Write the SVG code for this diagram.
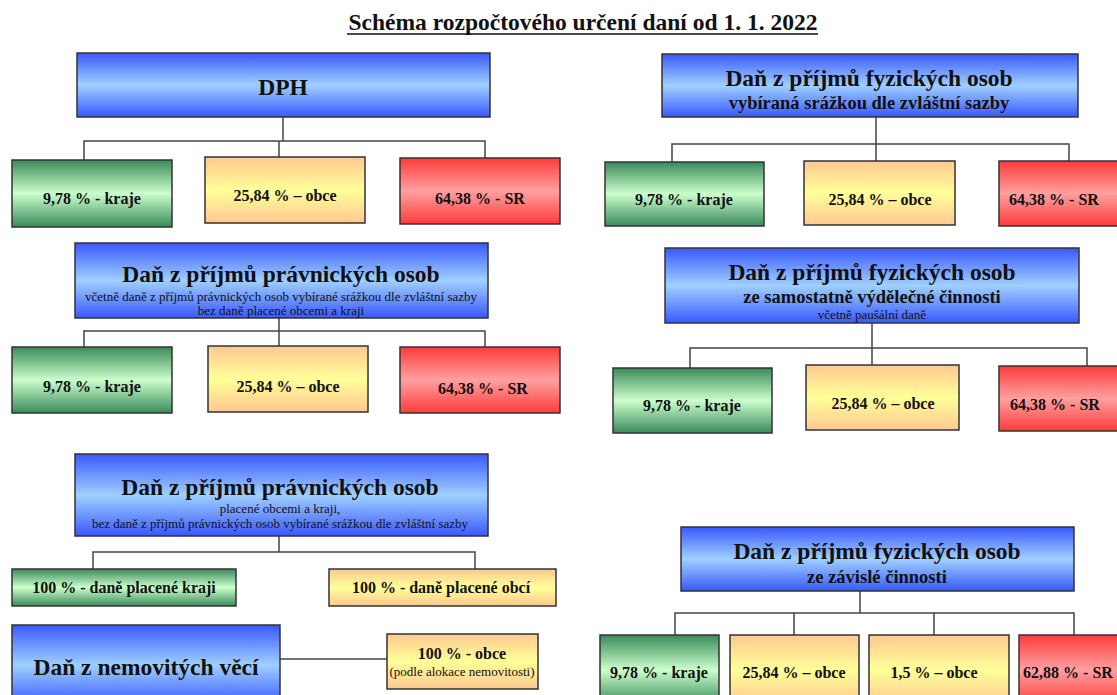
<svg xmlns="http://www.w3.org/2000/svg" width="1117" height="695" viewBox="0 0 1117 695">
<defs>
<linearGradient id="gBlue" x1="0" y1="0" x2="0" y2="1">
<stop offset="0" stop-color="#3a58ff"/><stop offset="0.5" stop-color="#9fd0ff"/><stop offset="1" stop-color="#3a58ff"/>
</linearGradient>
<linearGradient id="gGreen" x1="0" y1="0" x2="0" y2="1">
<stop offset="0" stop-color="#3a8a5a"/><stop offset="0.5" stop-color="#ccffcc"/><stop offset="1" stop-color="#3a8a5a"/>
</linearGradient>
<linearGradient id="gOrange" x1="0" y1="0" x2="0" y2="1">
<stop offset="0" stop-color="#ffc890"/><stop offset="0.5" stop-color="#ffff99"/><stop offset="1" stop-color="#ffc890"/>
</linearGradient>
<linearGradient id="gRed" x1="0" y1="0" x2="0" y2="1">
<stop offset="0" stop-color="#ff3b3b"/><stop offset="0.5" stop-color="#ffa0a0"/><stop offset="1" stop-color="#ff3b3b"/>
</linearGradient>
</defs>
<style>
text{font-family:"Liberation Serif","Times New Roman",serif;fill:#111;text-anchor:middle}
.b{font-weight:bold}
.box{stroke:#333;stroke-width:1.5}
.blue{fill:url(#gBlue)}
.green{fill:url(#gGreen)}
.orange{fill:url(#gOrange)}
.red{fill:url(#gRed)}
.main{font-size:23.5px;font-weight:bold}
.head{font-size:23.5px;font-weight:bold}
.sub{font-size:18.5px;font-weight:bold}
.note{font-size:13px}
.val{font-size:16px;font-weight:bold}
#connectors path{fill:none;stroke:#444;stroke-width:1.5}
</style>
<rect width="1117" height="695" fill="#fff"/>
<g id="title">
<text x="583" y="30" class="b" font-size="23.5">Schéma rozpočtového určení daní od 1. 1. 2022</text>
<line x1="347" y1="34" x2="818" y2="34" stroke="#111" stroke-width="1.3"/>
</g>
<g id="connectors">
<path d="M283 117V141M84 160V141H485V158M279 141V157"/>
<path d="M876 117V144M672 162V144H1069V161M876 144V161"/>
<path d="M279 318V331M84 347V331H485V347M279 331V346"/>
<path d="M872 323V348M690 368V348H1087V366M872 348V365"/>
<path d="M279 536V552M93 569V552H475V569"/>
<path d="M280 659H387"/>
<path d="M860 591V613M675 635V613H1074V635M794 613V635M934 613V635"/>
</g>
<g id="dph">
<rect class="box blue" x="77" y="53" width="413" height="64"/>
<text class="main" x="283" y="95">DPH</text>
</g>
<g id="dph-kraje"><rect class="box green" x="12" y="160" width="160" height="67"/><text class="val" x="92" y="204">9,78 % - kraje</text></g>
<g id="dph-obce"><rect class="box orange" x="205" y="157" width="160" height="66"/><text class="val" x="285" y="201">25,84 % – obce</text></g>
<g id="dph-sr"><rect class="box red" x="400" y="158" width="160" height="66"/><text class="val" x="480" y="204">64,38 % - SR</text></g>

<g id="dpfo-srazka">
<rect class="box blue" x="662" y="54" width="416" height="63"/>
<text class="head" x="869" y="86">Daň z příjmů fyzických osob</text>
<text class="sub" x="869" y="109">vybíraná srážkou dle zvláštní sazby</text>
</g>
<g id="dpfos-kraje"><rect class="box green" x="605" y="162" width="159" height="64"/><text class="val" x="684" y="205">9,78 % - kraje</text></g>
<g id="dpfos-obce"><rect class="box orange" x="804" y="161" width="151" height="64"/><text class="val" x="880" y="205">25,84 % – obce</text></g>
<g id="dpfos-sr"><rect class="box red" x="999" y="161" width="140" height="65"/><text class="val" x="1054" y="205">64,38 % - SR</text></g>

<g id="dppo">
<rect class="box blue" x="75" y="243" width="413" height="75"/>
<text class="main" x="281" y="282">Daň z příjmů právnických osob</text>
<text class="note" x="281" y="301">včetně daně z příjmů právnických osob vybírané srážkou dle zvláštní sazby</text>
<text class="note" x="281" y="315">bez daně placené obcemi a kraji</text>
</g>
<g id="dppo-kraje"><rect class="box green" x="12" y="347" width="160" height="66"/><text class="val" x="92" y="392">9,78 % - kraje</text></g>
<g id="dppo-obce"><rect class="box orange" x="208" y="346" width="160" height="66"/><text class="val" x="288" y="392">25,84 % – obce</text></g>
<g id="dppo-sr"><rect class="box red" x="400" y="347" width="160" height="66"/><text class="val" x="483" y="394">64,38 % - SR</text></g>

<g id="dpfo-osvc">
<rect class="box blue" x="665" y="248" width="414" height="75"/>
<text class="head" x="872" y="280">Daň z příjmů fyzických osob</text>
<text class="sub" x="872" y="303">ze samostatně výdělečné činnosti</text>
<text class="note" x="872" y="319" font-size="12">včetně paušální daně</text>
</g>
<g id="osvc-kraje"><rect class="box green" x="613" y="368" width="159" height="65"/><text class="val" x="692" y="411">9,78 % - kraje</text></g>
<g id="osvc-obce"><rect class="box orange" x="806" y="365" width="153" height="65"/><text class="val" x="883" y="409">25,84 % – obce</text></g>
<g id="osvc-sr"><rect class="box red" x="999" y="366" width="140" height="65"/><text class="val" x="1055" y="410">64,38 % - SR</text></g>

<g id="dppo-obce-kraje">
<rect class="box blue" x="75" y="454" width="413" height="82"/>
<text class="main" x="280" y="495">Daň z příjmů právnických osob</text>
<text class="note" x="280" y="513">placené obcemi a kraji,</text>
<text class="note" x="280" y="528">bez daně z příjmů právnických osob vybírané srážkou dle zvláštní sazby</text>
</g>
<g id="dppo-placene-kraji"><rect class="box green" x="12" y="569" width="224" height="37"/><text class="val" x="124" y="593">100 % - daně placené kraji</text></g>
<g id="dppo-placene-obci"><rect class="box orange" x="329" y="569" width="227" height="37"/><text class="val" x="441" y="593">100 % - daně placené obcí</text></g>

<g id="dnv">
<rect class="box blue" x="12" y="625" width="268" height="80"/>
<text class="main" x="146" y="675">Daň z nemovitých věcí</text>
</g>
<g id="dnv-obce">
<rect class="box orange" x="387" y="634" width="151" height="55"/>
<text class="val" x="462" y="659">100 % - obce</text>
<text class="note" x="462" y="676">(podle alokace nemovitosti)</text>
</g>

<g id="dpfo-zc">
<rect class="box blue" x="681" y="527" width="393" height="64"/>
<text class="head" x="877" y="559">Daň z příjmů fyzických osob</text>
<text class="sub" x="877" y="583">ze závislé činnosti</text>
</g>
<g id="zc-kraje"><rect class="box green" x="600" y="635" width="119" height="70"/><text class="val" x="659" y="678">9,78 % - kraje</text></g>
<g id="zc-obce"><rect class="box orange" x="730" y="635" width="129" height="70"/><text class="val" x="794" y="678">25,84 % – obce</text></g>
<g id="zc-obce2"><rect class="box orange" x="869" y="635" width="140" height="70"/><text class="val" x="934" y="678">1,5 % – obce</text></g>
<g id="zc-sr"><rect class="box red" x="1019" y="635" width="120" height="70"/><text class="val" x="1068" y="678">62,88 % - SR</text></g>
</svg>
